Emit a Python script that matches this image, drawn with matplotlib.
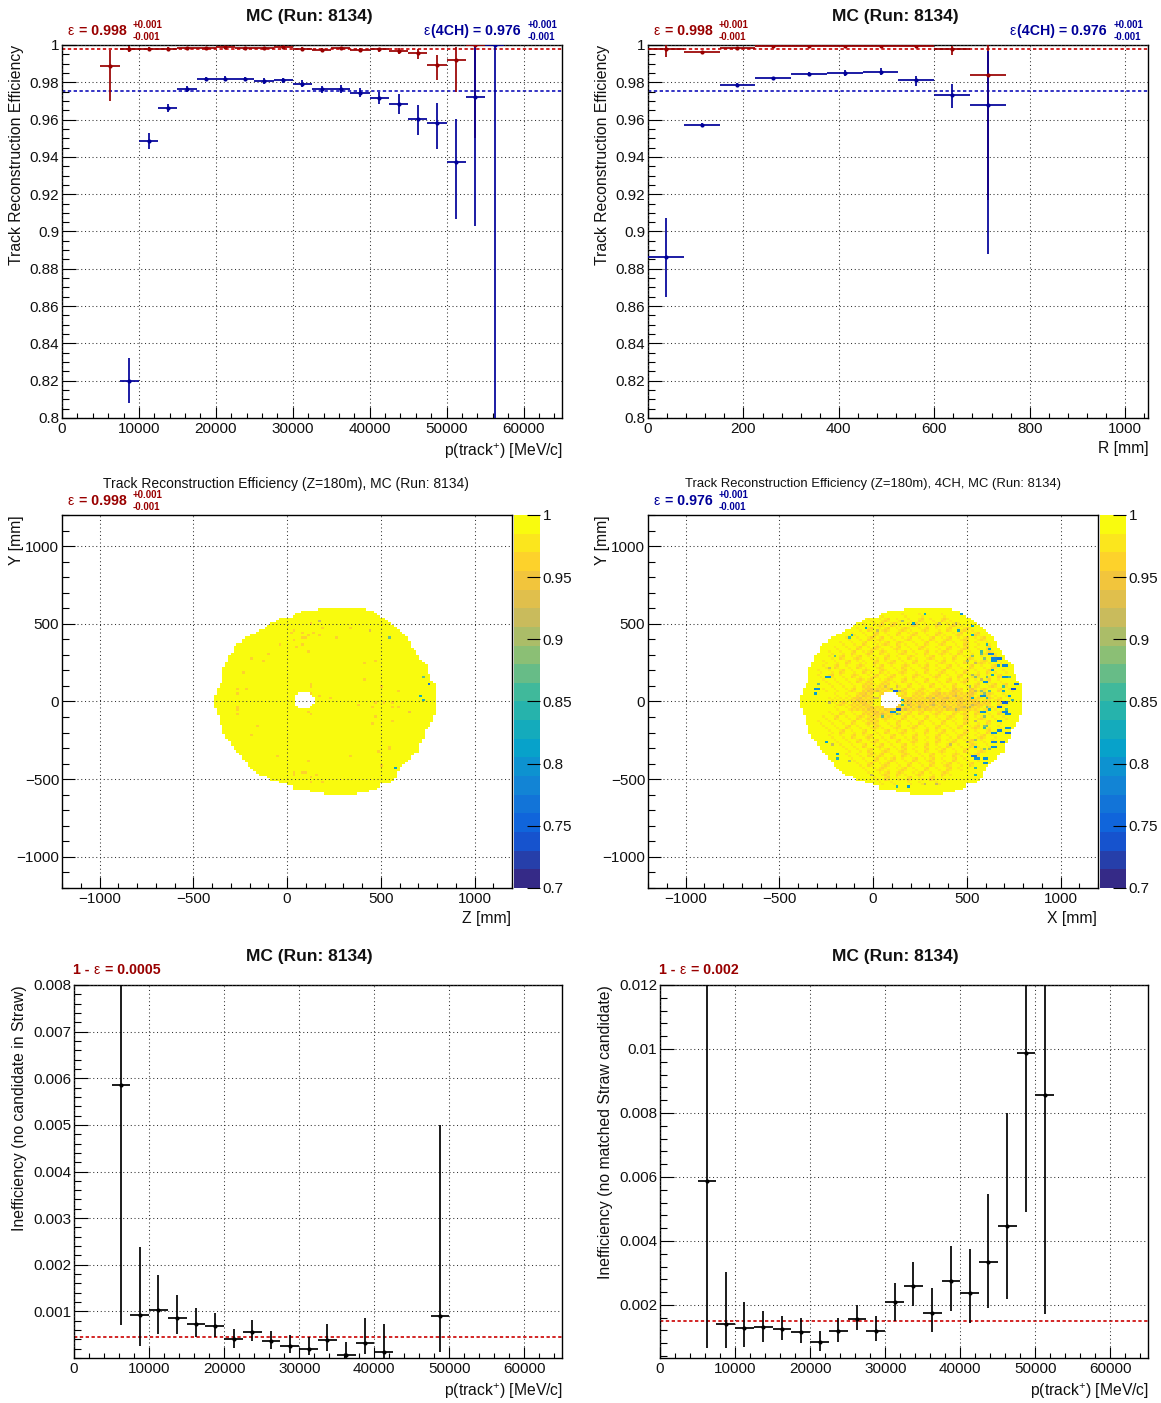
import numpy as np
import matplotlib
matplotlib.use("Agg")
import matplotlib.pyplot as plt
from matplotlib.colors import LinearSegmentedColormap, ListedColormap
from matplotlib.ticker import MultipleLocator, FixedLocator, FixedFormatter

plt.rcParams['font.family'] = ['Liberation Sans', 'DejaVu Sans']
plt.rcParams['mathtext.fontset'] = 'custom'
plt.rcParams['mathtext.rm'] = 'Liberation Sans'
plt.rcParams['mathtext.default'] = 'regular'

W, H = 1161, 1403
RED, BLUE = '#990000', '#000099'

# ---- efficiency vs momentum ----
p_width = 2500.0
p_red = [6250, 8750, 11250, 13750, 16250, 18750, 21250, 23750, 26250, 28750, 31250, 33750, 36250, 38750, 41250, 43750, 46250, 48750, 51250, 53750]
e_red = [.9885, .998, .998, .998, .9982, .9983, .9988, .9982, .9982, .9987, .9978, .9973, .9982, .9973, .9976, .9968, .9955, .9893, .9917, 1.0]
e_red_hi = [.9975, .9992, .9990, .9990, .9990, .9990, .9995, .9990, .9990, .9994, .9987, .9982, .9990, .9983, .9986, .9982, .9978, .9945, .9990, 1.0]
e_red_lo = [.970, .9965, .9970, .9970, .9974, .9976, .9980, .9974, .9974, .9980, .9968, .9964, .9973, .9962, .9964, .9950, .9925, .981, .975, .950]

p_blue = [8750, 11250, 13750, 16250, 18750, 21250, 23750, 26250, 28750, 31250, 33750, 36250, 38750, 41250, 43750, 46250, 48750, 51250, 53750, 56250]
e_blue = [.820, .9487, .9663, .9765, .9817, .9820, .9817, .9808, .9812, .9792, .9762, .9765, .9745, .9718, .9685, .9605, .958, .9375, .972, 1.0]
e_blue_hi = [.832, .953, .9685, .978, .983, .9835, .983, .9825, .9825, .981, .978, .9785, .977, .975, .9735, .968, .969, .9605, .999, 1.0]
e_blue_lo = [.808, .9445, .964, .975, .9805, .9805, .9805, .979, .9795, .9775, .9745, .974, .972, .9685, .963, .952, .9445, .9065, .903, .78]

# ---- efficiency vs radius ----
r_width = 75.0
r_cent = [37.5, 112.5, 187.5, 262.5, 337.5, 412.5, 487.5, 562.5, 637.5, 712.5]
er_red = [.998, .9965, .9983, .9992, .9995, .9993, .9993, .9995, .9978, .984]
er_red_hi = [.9998, .9970, .9988, .9997, 1.0, .9998, .9998, 1.0, .9995, 1.0]
er_red_lo = [.9935, .9960, .9978, .9987, .9990, .9988, .9988, .9990, .9945, .917]
er_blue = [.8865, .9572, .9785, .9825, .9845, .985, .9857, .981, .9732, .9678]
er_blue_hi = [.907, .958, .9795, .983, .9855, .9865, .9875, .9835, .979, .997]
er_blue_lo = [.865, .9562, .9775, .9815, .9835, .9835, .984, .978, .966, .888]
eff_mean_red, eff_mean_blue = .998, .9755

# ---- inefficiency panels ----
p_in1 = [6250, 8750, 11250, 13750, 16250, 18750, 21250, 23750, 26250, 28750, 31250, 33750, 36250, 38750, 41250, 48750]
in1 = [.00585, .00093, .00102, .00086, .00072, .00068, .00040, .00056, .00036, .00026, .00020, .00039, .00006, .00033, .00013, .0009]
in1_hi = [.0085, .00238, .00178, .00135, .00107, .00097, .00062, .00082, .00058, .00049, .00045, .00073, .00034, .00086, .00072, .0050]
in1_lo = [.0007, .00025, .00052, .00052, .00045, .00045, .00022, .00036, .00019, .00010, .00006, .00016, .0, .00008, .0, .00012]
in1_mean = .00046

p_in2 = [6250, 8750, 11250, 13750, 16250, 18750, 21250, 23750, 26250, 28750, 31250, 33750, 36250, 38750, 41250, 43750, 46250, 48750, 51250]
in2 = [.00587, .00140, .00128, .00130, .00125, .00115, .00084, .00118, .00156, .00118, .0021, .0026, .00175, .00275, .00237, .00334, .00447, .00987, .00856]
in2_hi = [.013, .00303, .0021, .00181, .00165, .00159, .00118, .00159, .0020, .00165, .00268, .00334, .00253, .00384, .00375, .00547, .0080, .013, .013]
in2_lo = [.00065, .00065, .00068, .00084, .0009, .00081, .00056, .00084, .00121, .00087, .0015, .00197, .00115, .00181, .00143, .0019, .00218, .0049, .00172]
in2_mean = .0015

# ---- beam-spot maps: 15 mm cells, rows run from y=+600 downwards ----
row_left = [160, 70, 45, 25, -50, -64, -91, -110, -126, -150, -171, -200, -224, -235, -242, -265, -278, -283, -287, -300,
            -313, -318, -322, -330, -336, -338, -340, -340, -345, -349, -350, -352, -354, -360, -376, -376, -382, -385, -390, -390,
            -390, -390, -385, -380, -376, -372, -367, -360, -358, -354, -350, -347, -344, -340, -335, -331, -320, -300, -295, -285,
            -278, -270, -255, -245, -235, -222, -215, -205, -198, -175, -160, -153, -105, -91, -50, 0, 25, 34, 120, 200]
row_right = [425, 470, 480, 490, 520, 540, 559, 575, 586, 600, 612, 625, 639, 648, 657, 660, 666, 675, 683, 692,
             701, 710, 719, 737, 746, 746, 746, 750, 760, 772, 772, 781, 790, 790, 790, 790, 790, 790, 790, 790,
             790, 790, 790, 790, 790, 790, 781, 781, 775, 772, 760, 745, 737, 735, 728, 728, 722, 716, 710, 705,
             701, 701, 680, 666, 655, 645, 630, 612, 600, 595, 590, 586, 580, 568, 555, 500, 490, 479, 430, 375]
hole_y = [45, 30, 15, 0, -15, -30, -45]
hole_left = [65, 50, 40, 40, 40, 50, 65]
hole_right = [120, 135, 145, 145, 145, 135, 125]

left_low_x = [167, 450, 555, 735, 751, 719, 735, 648, 660, 584]
left_low_y = [514, 454, 409, 152, 107, 32, 4, -73, -73, -432]
left_low_v = [.915, .93, .87, .87, .77, .83, .84, .93, .95, .82]
left_orange_x = [123, 16, 34, 78, 109, 150, 167, 182, 331, 256, 78, 96, 34, -41, 78, 46, 109, -189, -103, -132, 466, -237, 408, 408, -269, -224, -269, 509, 586, 123, 123, 135, 167, 226, 390, 452, 466, 523, 559, 568, 586, -255, -255, -255, 109, 123, 466, 568, 452, -162, -180, 555, 541, 482, -59, 345, 109, 497, 34, 34, 78, 105, 153, 123, 123, 182]
left_orange_y = [499, 439, 452, 439, 424, 439, 434, 469, 469, 409, 409, 409, 392, 364, 364, 349, 319, 274, 304, 259, 259, 184, 244, 139, 79, 79, 49, 92, 64, 109, 92, 49, 32, 17, -26, -41, -11, -11, -11, -41, -41, -41, -58, -88, -71, -88, -101, -131, -148, -161, -220, -297, -312, -327, -357, -357, -387, -415, -462, -477, -462, -462, -477, -492, -520, -520]
left_orange_v = .965

right_low_x = [279, 472, 214, -41, -116, -130, 529, 454, 529, 602, 618, 578, 627, 644, 671, 635, 662, 698, 635, 635, 694, 733, 600, 751, 737, 698, 698, 721, 737, 573, 534, 609, 698, 662, 707, 698, 707, 573, 618, 662, 716, 671, 707, 635, 676, 635, 644, 600, 548, 529, 543, 587, 587, 543, 543, 182, 121, -190, -190, -251, -251, -311, -311, -299, -206, 110, 160, 160, 121, 96, 48, 128]
right_low_y = [559, 559, 499, 469, 434, 409, 484, 452, 434, 364, 334, 327, 304, 274, 274, 259, 229, 229, 199, 178, 152, 152, 124, 109, 79, 103, 64, 32, 2, 32, 17, 17, -11, -41, -58, -73, -88, -71, -58, -133, -178, -193, -208, -208, -268, -268, -297, -175, -297, -357, -370, -372, -400, -430, -477, -550, -550, -336, -370, -268, 152, 79, 49, 107, 289, 64, 2, -19, -53, -68, -100, -83]
right_low_v = [.83, .80, .82, .81, .83, .85, .82, .83, .83, .84, .82, .85, .78, .78, .76, .80, .83, .78, .82, .83, .80, .85, .80, .76, .74, .85, .83, .82, .85, .80, .83, .85, .75, .75, .85, .78, .80, .80, .83, .80, .80, .78, .76, .80, .76, .78, .80, .85, .82, .76, .80, .80, .80, .85, .84, .82, .84, .82, .84, .81, .80, .80, .82, .87, .87, .75, .83, .84, .74, .80, .87, .87]
right_tan_x = [502, 529, 555, 582, 600, 538, 555, 582, 609, 511, 546, 573, 600, 627, 511, 538, 609, 600, 555, 591, 609, 546, 591, 627, 502, 413, 324, 288, 253, 324, 377, 395, 449, 484, 440, 164, 360, 440, 21, -228, -5, 271, 342, -130, -210, -237, 66, 93, 128, 21, 4, 182, 199, 57, 146, 173, 30, 137]
right_tan_y = [263, 285, 242, 306, 274, 178, 156, 146, 156, 92, 71, 71, 49, 71, -36, -26, -36, -101, -122, -165, -154, -250, -315, -304, -261, -276, 28, 28, -32, -26, -36, 28, -58, -36, 32, 516, 499, 509, 460, 220, -475, -529, -539, -389, -272, -15, 92, 81, 92, 28, 28, -26, -36, -79, -90, -58, 71, 71]
right_tan_v = [.90, .88, .91, .87, .89, .90, .88, .91, .87, .90, .92, .88, .89, .87, .90, .91, .88, .89, .91, .88, .87, .90, .89, .88, .91, .92, .92, .93, .92, .91, .92, .93, .90, .91, .92, .90, .92, .91, .92, .91, .92, .91, .92, .90, .91, .92, .93, .92, .93, .93, .93, .92, .93, .93, .92, .93, .93, .92]
# cell shading of the 4CH map on a 30 mm lattice (x from -390, y from +600)
tex_rows = [
 "0000000000000000000000000000000000000000",
 "0000000000000010001001000100000000000000",
 "0000000000001012010102010210000000000000",
 "0000000000010120210120102012100000000000",
 "0000000000102012012101201020121000000000",
 "0000000001010201020120102101201200000000",
 "0000000010102120101201020120120120000000",
 "0000000101020112021010201201020101000000",
 "0000001010201210120102101020120102000000",
 "0000010102012021012010201210201012100000",
 "0000010201201102010210120102012010200000",
 "0000101020110201201020101201020121010000",
 "0000102010210120102101201020102010200000",
 "0001010201021021012010201201020102101000",
 "0001020102101201201021012010201201020000",
 "0000101010212012102010201020120102010000",
 "0000010101022122010201020102010201202000",
 "0000101012023222012012102013203121020100",
 "0000001010232023212022123223223122101000",
 "0000011112322002322322232322323212120100",
 "0000001212232002232323232322322322021000",
 "0000001012223223232222322232322212101000",
 "0000010201022322201202012102120201021000",
 "0000102010212212102010201021020120101000",
 "0001010102012201020102010201020102010000",
 "0000101020101210120120102010201201010000",
 "0000010201020102012010201201020102000000",
 "0000010102012010201020102010210120100000",
 "0000001010201201020120102012012010100000",
 "0000000101020120102010201020102101000000",
 "0000000010102012012010201201020120000000",
 "0000000010102120102101020102101200000000",
 "0000000001010201201020120102010100000000",
 "0000000000102012010201020120102000000000",
 "0000000000010121012010201020100000000000",
 "0000000000001012021012010210000000000000",
 "0000000000000102010201020100000000000000",
 "0000000000000010100101001000000000000000",
 "0000000000000000000000000000000000000000",
 "0000000000000000000000000000000000000000",
]
# pair of efficiencies shown by the two diagonals of each lattice block
tex_a = [.995, .978, .978, .963]
tex_b = [.995, .995, .965, .948]

# ---- ticks ----
eff_ticks = [.8, .82, .84, .86, .88, .9, .92, .94, .96, .98, 1.0]
eff_labels = ['0.8', '0.82', '0.84', '0.86', '0.88', '0.9', '0.92', '0.94', '0.96', '0.98', '1']
p_ticks = [0, 10000, 20000, 30000, 40000, 50000, 60000]
r_ticks = [0, 200, 400, 600, 800, 1000]
in1_ticks = [.001, .002, .003, .004, .005, .006, .007, .008]
in1_labels = ['0.001', '0.002', '0.003', '0.004', '0.005', '0.006', '0.007', '0.008']
in2_ticks = [.002, .004, .006, .008, .01, .012]
in2_labels = ['0.002', '0.004', '0.006', '0.008', '0.01', '0.012']
map_ticks = [-1000, -500, 0, 500, 1000]
cb_ticks = [.7, .75, .8, .85, .9, .95, 1.0]
cb_labels = ['0.7', '0.75', '0.8', '0.85', '0.9', '0.95', '1']

bird_stops = [0, .125, .25, .375, .5, .625, .75, .875, 1]
bird_r = [0.2082, 0.0592, 0.0780, 0.0232, 0.1802, 0.5301, 0.8186, 0.9956, 0.9764]
bird_g = [0.1664, 0.3599, 0.5041, 0.6419, 0.7178, 0.7492, 0.7328, 0.7862, 0.9832]
bird_b = [0.5293, 0.8684, 0.8385, 0.7914, 0.6425, 0.4662, 0.3499, 0.1968, 0.0539]
n_bands = 20

TICK_FS = 11.0
LABEL_FS = 11.3

bird = LinearSegmentedColormap.from_list('bird', list(zip(bird_stops, zip(bird_r, bird_g, bird_b))))
cmap = ListedColormap(bird(np.linspace(0, 1, n_bands)))
cmap.set_bad((1, 1, 1, 0))

fig = plt.figure(figsize=(W / 100, H / 100), dpi=100, facecolor='white')


def make_ax(l, t, r, b):
    return fig.add_axes([l / W, 1 - b / H, (r - l) / W, (b - t) / H])


def ftext(x, y, s, **kw):
    kw.setdefault('va', 'center')
    kw.setdefault('ha', 'left')
    kw.setdefault('color', '#111111')
    return fig.text(x / W, 1 - y / H, s, **kw)


def style(ax, ymajor_px=14, xmajor_px=11):
    ax.grid(True, which='major', color='#333333', lw=0.75, ls=(0, (1, 2.6)))
    ax.set_axisbelow(False)
    ax.tick_params(which='major', axis='x', direction='in', length=xmajor_px * .72, width=.8, labelsize=TICK_FS, pad=3, labelcolor='#111111')
    ax.tick_params(which='minor', axis='x', direction='in', length=xmajor_px * .36, width=.8)
    ax.tick_params(which='major', axis='y', direction='in', length=ymajor_px * .72, width=.8, labelsize=TICK_FS, pad=2, labelcolor='#111111')
    ax.tick_params(which='minor', axis='y', direction='in', length=ymajor_px * .36, width=.8)
    for s in ax.spines.values():
        s.set_linewidth(1.0)


def pts(ax, x, v, lo, hi, width, color):
    x, v, lo, hi = map(np.asarray, (x, v, lo, hi))
    ax.errorbar(x, v, yerr=[v - lo, hi - v], xerr=width / 2, fmt='o', ms=3.0, color=color,
                elinewidth=1.25, capsize=0, mew=0, zorder=3)


def eff_axis(ax):
    ax.set_ylim(.8, 1.0)
    ax.yaxis.set_major_locator(FixedLocator(eff_ticks))
    ax.yaxis.set_major_formatter(FixedFormatter(eff_labels))
    ax.yaxis.set_minor_locator(MultipleLocator(.005))


def eps_label(x, y, rest, val_color, sym_dx=12):
    ftext(x, y, 'ε', color=val_color, fontsize=10)
    ftext(x + sym_dx, y, rest, color=val_color, fontsize=10.2, fontweight='bold')


def errs(x, y, color):
    ftext(x, y - 6, '+0.001', color=color, fontsize=7.0, fontweight='bold')
    ftext(x, y + 6, '-0.001', color=color, fontsize=7.0, fontweight='bold')


# --- top left
ax = make_ax(62, 45, 562, 418)
ax.set_xlim(0, 65000)
eff_axis(ax)
ax.xaxis.set_major_locator(FixedLocator(p_ticks))
ax.xaxis.set_minor_locator(MultipleLocator(2000))
ax.ticklabel_format(axis='x', style='plain')
style(ax)
pts(ax, p_red, e_red, e_red_lo, e_red_hi, p_width, RED)
pts(ax, p_blue, e_blue, e_blue_lo, e_blue_hi, p_width, BLUE)
ax.axhline(eff_mean_red, color='#cc0000', lw=1.2, ls=(0, (2, 1.5)), zorder=2.5)
ax.axhline(eff_mean_blue, color='#1111bb', lw=1.2, ls=(0, (2, 1.5)), zorder=2.5)

# --- top right
ax = make_ax(648, 45, 1148, 418)
ax.set_xlim(0, 1048)
eff_axis(ax)
ax.xaxis.set_major_locator(FixedLocator(r_ticks))
ax.xaxis.set_minor_locator(MultipleLocator(40))
style(ax)
pts(ax, r_cent, er_red, er_red_lo, er_red_hi, r_width, RED)
pts(ax, r_cent, er_blue, er_blue_lo, er_blue_hi, r_width, BLUE)
ax.axhline(eff_mean_red, color='#cc0000', lw=1.2, ls=(0, (2, 1.5)), zorder=2.5)
ax.axhline(eff_mean_blue, color='#1111bb', lw=1.2, ls=(0, (2, 1.5)), zorder=2.5)


# --- maps
xedges = np.arange(-1200, 1201, 15.0)
yedges_desc = 600 - 15.0 * np.arange(len(row_left) + 1)


def base_map():
    z = np.full((len(row_left), len(xedges) - 1), np.nan)
    xc = (xedges[:-1] + xedges[1:]) / 2
    for i, (a, b) in enumerate(zip(row_left, row_right)):
        z[i, (xc >= a) & (xc <= b)] = .995
    yc = (yedges_desc[:-1] + yedges_desc[1:]) / 2
    return z, xc, yc


def set_cells(z, xc, yc, xs, ys, vs):
    for x, y, v in zip(xs, ys, vs):
        i = np.argmin(abs(yc - y))
        j = np.argmin(abs(xc - x))
        if not np.isnan(z[i, j]):
            z[i, j] = v


def cut_hole(z, xc, yc):
    for y, a, b in zip(hole_y, hole_left, hole_right):
        i = np.argmin(abs(yc - y))
        z[i, (xc >= a) & (xc <= b)] = np.nan


z_left, xc, yc = base_map()
set_cells(z_left, xc, yc, left_orange_x, left_orange_y, [left_orange_v] * len(left_orange_x))
set_cells(z_left, xc, yc, left_low_x, left_low_y, left_low_v)
cut_hole(z_left, xc, yc)

z_right, xc, yc = base_map()
for r, line in enumerate(tex_rows):
    rows = np.where((yc <= 600 - 30 * r) & (yc > 570 - 30 * r))[0]
    for c, ch in enumerate(line):
        lev = int(ch)
        if lev == 0:
            continue
        cols = np.where((xc >= -390 + 30 * c) & (xc < -360 + 30 * c))[0]
        for i in rows:
            for j in cols:
                if not np.isnan(z_right[i, j]):
                    z_right[i, j] = tex_a[lev] if (i + j) % 2 == 0 else tex_b[lev]
set_cells(z_right, xc, yc, right_tan_x, right_tan_y, right_tan_v)
set_cells(z_right, xc, yc, right_low_x, right_low_y, right_low_v)
# the bluest entries of the 4CH map cover two neighbouring cells
wide = [(x + 15, y, v) for x, y, v in zip(right_low_x, right_low_y, right_low_v) if v <= .80]
set_cells(z_right, xc, yc, *zip(*wide))
cut_hole(z_right, xc, yc)

for (l, z) in ((62, z_left), (648, z_right)):
    ax = make_ax(l, 515, l + 450, 888)
    ax.pcolormesh(xedges, yedges_desc, z, cmap=cmap, vmin=.7, vmax=1.0, shading='flat', zorder=1)
    ax.set_xlim(-1200, 1200)
    ax.set_ylim(-1200, 1200)
    ax.xaxis.set_major_locator(FixedLocator(map_ticks))
    ax.yaxis.set_major_locator(FixedLocator(map_ticks))
    ax.xaxis.set_minor_locator(MultipleLocator(100))
    ax.yaxis.set_minor_locator(MultipleLocator(100))
    style(ax, ymajor_px=13)
    cax = make_ax(l + 452, 515, l + 478, 888)
    levels = np.linspace(.7, 1.0, n_bands + 1)
    cax.pcolormesh([0, 1], levels, (levels[:-1] + levels[1:]).reshape(-1, 1) / 2, cmap=cmap, vmin=.7, vmax=1.0)
    cax.set_xticks([])
    cax.set_ylim(.7, 1.0)
    cax.yaxis.tick_right()
    cax.yaxis.set_major_locator(FixedLocator(cb_ticks))
    cax.yaxis.set_major_formatter(FixedFormatter(cb_labels))
    cax.tick_params(axis='y', direction='in', length=9.4, width=.8, labelsize=TICK_FS, pad=2, labelcolor='#111111')
    for s in cax.spines.values():
        s.set_visible(False)

# --- bottom left
ax = make_ax(74, 985, 562, 1358)
ax.set_xlim(0, 65000)
ax.set_ylim(0, .008)
ax.xaxis.set_major_locator(FixedLocator(p_ticks))
ax.xaxis.set_minor_locator(MultipleLocator(2000))
ax.yaxis.set_major_locator(FixedLocator(in1_ticks))
ax.yaxis.set_major_formatter(FixedFormatter(in1_labels))
ax.yaxis.set_minor_locator(MultipleLocator(.0002))
style(ax)
pts(ax, p_in1, in1, in1_lo, in1_hi, p_width, 'black')
ax.axhline(in1_mean, color='#cc0000', lw=1.2, ls=(0, (2, 1.5)), zorder=2.5)

# --- bottom right
ax = make_ax(660, 985, 1148, 1358)
ax.set_xlim(0, 65000)
ax.set_ylim(.00034, .012)
ax.xaxis.set_major_locator(FixedLocator(p_ticks))
ax.xaxis.set_minor_locator(MultipleLocator(2000))
ax.yaxis.set_major_locator(FixedLocator(in2_ticks))
ax.yaxis.set_major_formatter(FixedFormatter(in2_labels))
ax.yaxis.set_minor_locator(MultipleLocator(.0004))
style(ax)
pts(ax, p_in2, in2, in2_lo, in2_hi, p_width, 'black')
ax.axhline(in2_mean, color='#cc0000', lw=1.2, ls=(0, (2, 1.5)), zorder=2.5)

# --- text
P_LABEL = 'p(track$^{+}$) [MeV/c]'
for cx in (309, 895):
    ftext(cx, 16, 'MC (Run: 8134)', ha='center', fontsize=12.5, fontweight='bold')
    ftext(cx, 956, 'MC (Run: 8134)', ha='center', fontsize=12.5, fontweight='bold')
ftext(563, 451, P_LABEL, ha='right', fontsize=LABEL_FS)
ftext(1149, 449, 'R [mm]', ha='right', fontsize=LABEL_FS)
ftext(563, 1391, P_LABEL, ha='right', fontsize=LABEL_FS)
ftext(1149, 1391, P_LABEL, ha='right', fontsize=LABEL_FS)
ftext(511, 919, 'Z [mm]', ha='right', fontsize=LABEL_FS)
ftext(1097, 919, 'X [mm]', ha='right', fontsize=LABEL_FS)
for x in (17, 603):
    ftext(x, 45, 'Track Reconstruction Efficiency', rotation=90, ha='center', va='top', fontsize=LABEL_FS)
for x in (16, 602):
    ftext(x, 515, 'Y [mm]', rotation=90, ha='center', va='top', fontsize=LABEL_FS)
ftext(20, 985, 'Inefficiency (no candidate in Straw)', rotation=90, ha='center', va='top', fontsize=LABEL_FS)
ftext(605, 985, 'Inefficiency (no matched Straw candidate)', rotation=90, ha='center', va='top', fontsize=LABEL_FS)
ftext(286, 484, 'Track Reconstruction Efficiency (Z=180m), MC (Run: 8134)', ha='center', fontsize=10.0)
ftext(873, 484, 'Track Reconstruction Efficiency (Z=180m), 4CH, MC (Run: 8134)', ha='center', fontsize=9.4)

for x in (67, 653):
    eps_label(x, 31, '= 0.998', RED)
    errs(x + 66, 31, RED)
eps_label(67, 501, '= 0.998', RED)
errs(133, 501, RED)
eps_label(653, 501, '= 0.976', BLUE)
errs(719, 501, BLUE)
for x in (424, 1010):
    eps_label(x, 31, '(4CH) = 0.976', BLUE, sym_dx=7)
    errs(x + 104, 31, BLUE)
ftext(73, 970, '1 -', color=RED, fontsize=10.2, fontweight='bold')
ftext(94, 970, 'ε', color=RED, fontsize=10)
ftext(105, 970, '= 0.0005', color=RED, fontsize=10.2, fontweight='bold')
ftext(659, 970, '1 -', color=RED, fontsize=10.2, fontweight='bold')
ftext(680, 970, 'ε', color=RED, fontsize=10)
ftext(691, 970, '= 0.002', color=RED, fontsize=10.2, fontweight='bold')

fig.savefig('out.png', dpi=100)
